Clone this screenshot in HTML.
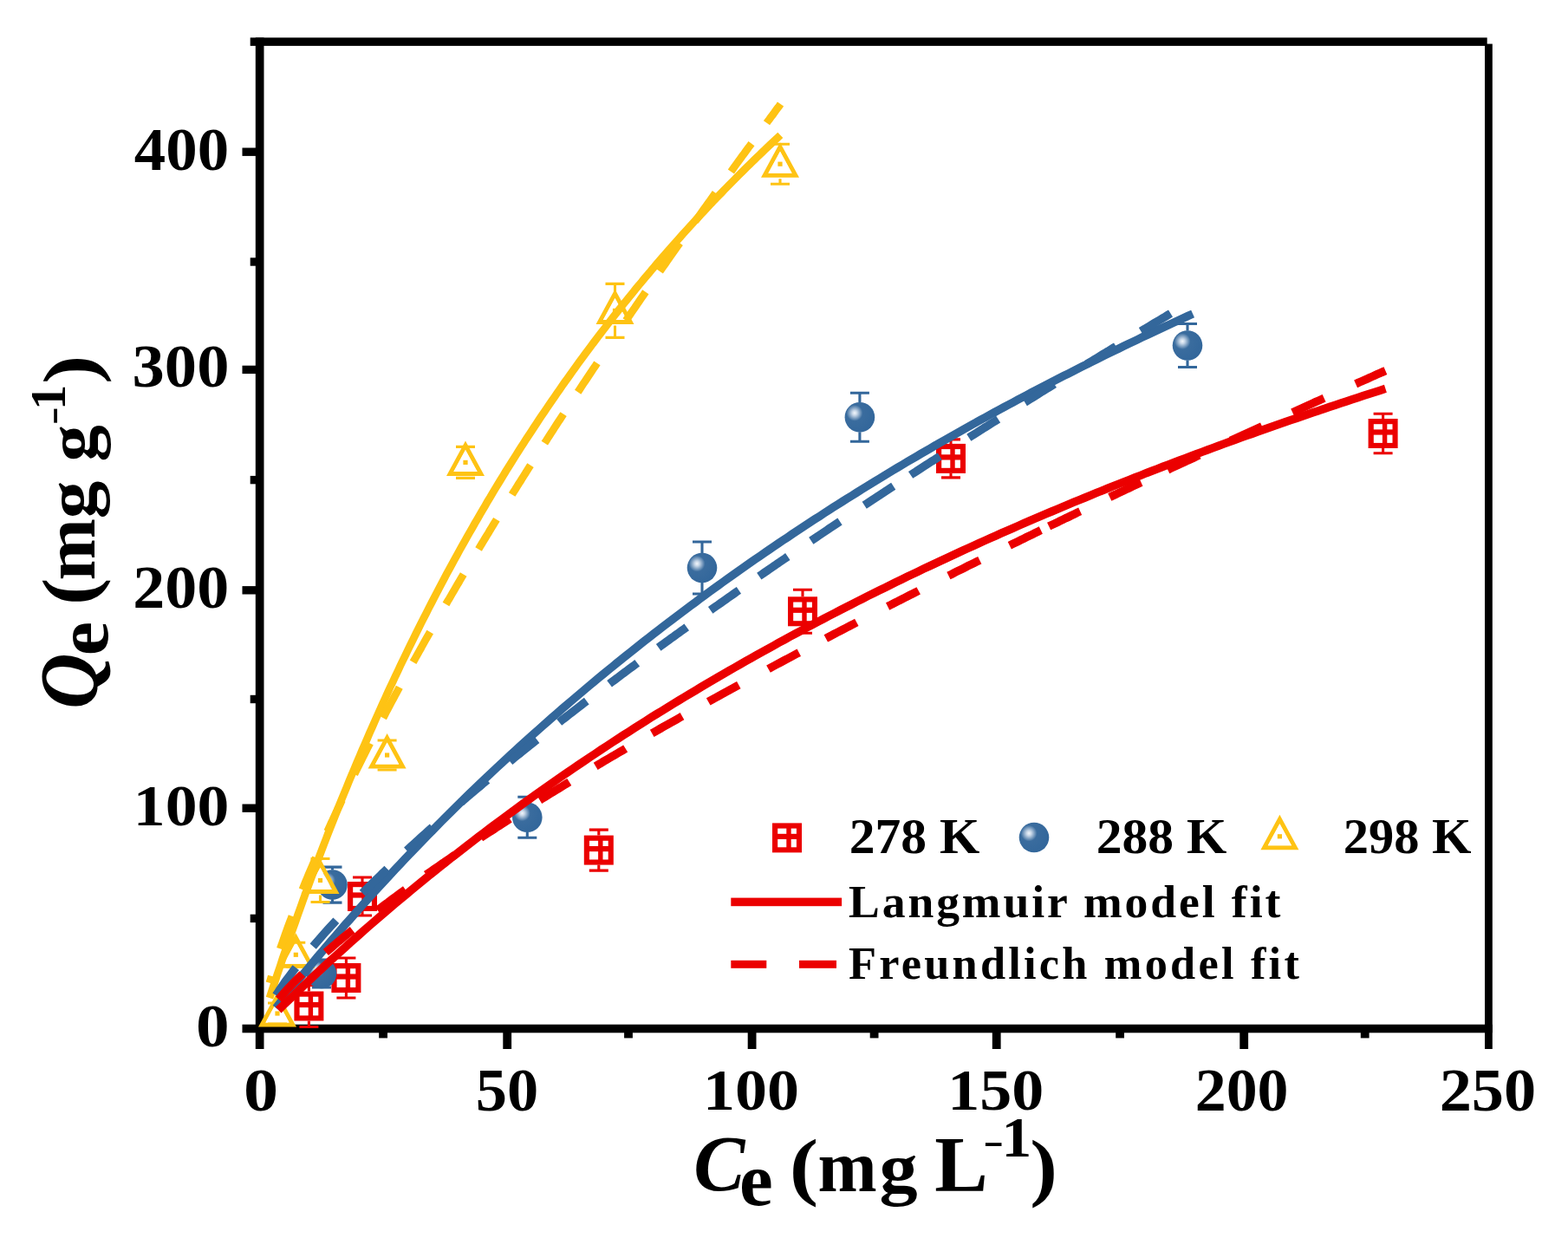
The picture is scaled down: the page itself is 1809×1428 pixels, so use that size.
<!DOCTYPE html>
<html><head><meta charset="utf-8"><style>
html,body{margin:0;padding:0;background:#fff;overflow:hidden}
svg{display:block}
text{font-family:"Liberation Serif","Times New Roman",serif}
</style></head><body>
<svg width="1809" height="1428" viewBox="0 0 1809 1428" font-weight="bold">
<defs>
<radialGradient id="sg" cx="0.33" cy="0.36" r="0.67" fx="0.33" fy="0.36">
<stop offset="0" stop-color="#F2F6FB"/><stop offset="0.12" stop-color="#C8D7E8"/><stop offset="0.4" stop-color="#3A6C9E"/><stop offset="1" stop-color="#33679B"/>
</radialGradient>
</defs>
<rect width="1809" height="1428" fill="#fff"/>

<g fill="#000">
<rect x="294.8" y="43.4" width="9.7" height="1166.6"/>
<rect x="288.7" y="43.4" width="1427" height="9.5"/>
<rect x="1713" y="50.6" width="8.8" height="1159.4"/>
<rect x="279.5" y="1181.7" width="1442.3" height="9.6"/>
<rect x="580.3" y="1186" width="9.8" height="24"/>
<rect x="862.7" y="1186" width="9.8" height="24"/>
<rect x="1144.8" y="1186" width="9.8" height="24"/>
<rect x="1430.3" y="1186" width="9.8" height="24"/>
<rect x="437.2" y="1186" width="9.8" height="11.4"/>
<rect x="720.1" y="1186" width="9.8" height="11.4"/>
<rect x="1003.7" y="1186" width="9.8" height="11.4"/>
<rect x="1287.2" y="1186" width="9.8" height="11.4"/>
<rect x="1569.8" y="1186" width="9.8" height="11.4"/>
<rect x="279.5" y="927.5" width="20" height="9.4"/>
<rect x="279.5" y="676.1" width="20" height="9.4"/>
<rect x="279.5" y="421.7" width="20" height="9.4"/>
<rect x="279.5" y="170.5" width="20" height="9.4"/>
<rect x="288.7" y="1054.7" width="10" height="9.4"/>
<rect x="288.7" y="801.8" width="10" height="9.4"/>
<rect x="288.7" y="548.9" width="10" height="9.4"/>
<rect x="288.7" y="297.3" width="10" height="9.4"/>
</g>
<g transform="translate(339.4,1143.5)"><rect x="0" y="0" width="34" height="34" fill="#EB0000"/><rect x="6.2" y="6.2" width="10.1" height="6.2" fill="#fff"/><rect x="21.7" y="6.2" width="6.2" height="6.2" fill="#fff"/><rect x="6.2" y="18.6" width="10.1" height="9.3" fill="#fff"/><rect x="21.7" y="18.6" width="6.2" height="9.3" fill="#fff"/></g>
<path d="M345.4,1136.5 h22 M345.4,1184.5 h22 M356.4,1136.5 V1143.5 M356.4,1177.5 V1184.5" stroke="#EB0000" stroke-width="3.1" fill="none"/>
<g transform="translate(382.4,1111.0)"><rect x="0" y="0" width="34" height="34" fill="#EB0000"/><rect x="6.2" y="6.2" width="10.1" height="6.2" fill="#fff"/><rect x="21.7" y="6.2" width="6.2" height="6.2" fill="#fff"/><rect x="6.2" y="18.6" width="10.1" height="9.3" fill="#fff"/><rect x="21.7" y="18.6" width="6.2" height="9.3" fill="#fff"/></g>
<path d="M388.4,1105.0 h22 M388.4,1151.0 h22 M399.4,1105.0 V1111.0 M399.4,1145.0 V1151.0" stroke="#EB0000" stroke-width="3.1" fill="none"/>
<g transform="translate(401.0,1017.0)"><rect x="0" y="0" width="34" height="34" fill="#EB0000"/><rect x="6.2" y="6.2" width="10.1" height="6.2" fill="#fff"/><rect x="21.7" y="6.2" width="6.2" height="6.2" fill="#fff"/><rect x="6.2" y="18.6" width="10.1" height="9.3" fill="#fff"/><rect x="21.7" y="18.6" width="6.2" height="9.3" fill="#fff"/></g>
<path d="M407.0,1012.0 h22 M407.0,1056.0 h22 M418.0,1012.0 V1017.0 M418.0,1051.0 V1056.0" stroke="#EB0000" stroke-width="3.1" fill="none"/>
<g transform="translate(673.8,963.6)"><rect x="0" y="0" width="34" height="34" fill="#EB0000"/><rect x="6.2" y="6.2" width="10.1" height="6.2" fill="#fff"/><rect x="21.7" y="6.2" width="6.2" height="6.2" fill="#fff"/><rect x="6.2" y="18.6" width="10.1" height="9.3" fill="#fff"/><rect x="21.7" y="18.6" width="6.2" height="9.3" fill="#fff"/></g>
<path d="M679.8,957.1 h22 M679.8,1004.1 h22 M690.8,957.1 V963.6 M690.8,997.6 V1004.1" stroke="#EB0000" stroke-width="3.1" fill="none"/>
<g transform="translate(909.0,688.3)"><rect x="0" y="0" width="34" height="34" fill="#EB0000"/><rect x="6.2" y="6.2" width="10.1" height="6.2" fill="#fff"/><rect x="21.7" y="6.2" width="6.2" height="6.2" fill="#fff"/><rect x="6.2" y="18.6" width="10.1" height="9.3" fill="#fff"/><rect x="21.7" y="18.6" width="6.2" height="9.3" fill="#fff"/></g>
<path d="M915.0,680.3 h22 M915.0,730.3 h22 M926.0,680.3 V688.3 M926.0,722.3 V730.3" stroke="#EB0000" stroke-width="3.1" fill="none"/>
<g transform="translate(1080.0,511.9)"><rect x="0" y="0" width="34" height="34" fill="#EB0000"/><rect x="6.2" y="6.2" width="10.1" height="6.2" fill="#fff"/><rect x="21.7" y="6.2" width="6.2" height="6.2" fill="#fff"/><rect x="6.2" y="18.6" width="10.1" height="9.3" fill="#fff"/><rect x="21.7" y="18.6" width="6.2" height="9.3" fill="#fff"/></g>
<path d="M1086.0,506.9 h22 M1086.0,550.9 h22 M1097.0,506.9 V511.9 M1097.0,545.9 V550.9" stroke="#EB0000" stroke-width="3.1" fill="none"/>
<g transform="translate(1578.6,483.0)"><rect x="0" y="0" width="34" height="34" fill="#EB0000"/><rect x="6.2" y="6.2" width="10.1" height="6.2" fill="#fff"/><rect x="21.7" y="6.2" width="6.2" height="6.2" fill="#fff"/><rect x="6.2" y="18.6" width="10.1" height="9.3" fill="#fff"/><rect x="21.7" y="18.6" width="6.2" height="9.3" fill="#fff"/></g>
<path d="M1584.6,477.2 h22 M1584.6,522.8 h22 M1595.6,477.2 V483.0 M1595.6,517.0 V522.8" stroke="#EB0000" stroke-width="3.1" fill="none"/>
<circle cx="371.0" cy="1123.0" r="17.3" fill="url(#sg)"/>
<path d="M360.0,1107.0 h22 M360.0,1139.0 h22" stroke="#33679B" stroke-width="3.1" fill="none"/>
<circle cx="383.5" cy="1020.6" r="17.3" fill="url(#sg)"/>
<path d="M372.5,1000.1 h22 M372.5,1041.1 h22 M383.5,1000.1 V1003.6 M383.5,1037.6 V1041.1" stroke="#33679B" stroke-width="3.1" fill="none"/>
<circle cx="608.3" cy="942.8" r="17.3" fill="url(#sg)"/>
<path d="M597.3,919.3 h22 M597.3,966.3 h22 M608.3,919.3 V925.8 M608.3,959.8 V966.3" stroke="#33679B" stroke-width="3.1" fill="none"/>
<circle cx="810.0" cy="655.0" r="17.3" fill="url(#sg)"/>
<path d="M799.0,625.0 h22 M799.0,685.0 h22 M810.0,625.0 V638.0 M810.0,672.0 V685.0" stroke="#33679B" stroke-width="3.1" fill="none"/>
<circle cx="991.9" cy="481.2" r="17.3" fill="url(#sg)"/>
<path d="M980.9,453.2 h22 M980.9,509.2 h22 M991.9,453.2 V464.2 M991.9,498.2 V509.2" stroke="#33679B" stroke-width="3.1" fill="none"/>
<circle cx="1370.0" cy="398.5" r="17.3" fill="url(#sg)"/>
<path d="M1359.0,373.5 h22 M1359.0,423.5 h22 M1370.0,373.5 V381.5 M1370.0,415.5 V423.5" stroke="#33679B" stroke-width="3.1" fill="none"/>
<path d="M320.0,1144.0 L342.0,1184.5 L298.0,1184.5 Z M320.0,1154.5 L306.4,1179.5 L333.6,1179.5 Z" fill="#FEC314" fill-rule="evenodd"/><path d="M320.0,1154.5 L306.4,1179.5 L333.6,1179.5 Z" fill="#fff"/><rect x="317.4" y="1166.4" width="5.2" height="5.2" fill="#FEC314"/>
<path d="M309.0,1157.0 h22 M309.0,1181.0 h22" stroke="#FEC314" stroke-width="3.1" fill="none"/>
<path d="M341.3,1076.3 L363.3,1116.8 L319.3,1116.8 Z M341.3,1086.8 L327.7,1111.8 L354.9,1111.8 Z" fill="#FEC314" fill-rule="evenodd"/><path d="M341.3,1086.8 L327.7,1111.8 L354.9,1111.8 Z" fill="#fff"/><rect x="338.7" y="1098.7" width="5.2" height="5.2" fill="#FEC314"/>
<path d="M330.3,1087.3 h22 M330.3,1115.3 h22" stroke="#FEC314" stroke-width="3.1" fill="none"/>
<path d="M369.5,990.5 L391.5,1031.0 L347.5,1031.0 Z M369.5,1001.0 L355.9,1026.0 L383.1,1026.0 Z" fill="#FEC314" fill-rule="evenodd"/><path d="M369.5,1001.0 L355.9,1026.0 L383.1,1026.0 Z" fill="#fff"/><rect x="366.9" y="1012.9" width="5.2" height="5.2" fill="#FEC314"/>
<path d="M358.5,990.5 h22 M358.5,1040.5 h22 M369.5,990.5 V998.5 M369.5,1032.5 V1040.5" stroke="#FEC314" stroke-width="3.1" fill="none"/>
<path d="M446.6,846.0 L468.6,886.5 L424.6,886.5 Z M446.6,856.5 L433.0,881.5 L460.2,881.5 Z" fill="#FEC314" fill-rule="evenodd"/><path d="M446.6,856.5 L433.0,881.5 L460.2,881.5 Z" fill="#fff"/><rect x="444.0" y="868.4" width="5.2" height="5.2" fill="#FEC314"/>
<path d="M435.6,854.0 h22 M435.6,888.0 h22" stroke="#FEC314" stroke-width="3.1" fill="none"/>
<path d="M537.0,508.4 L559.0,548.9 L515.0,548.9 Z M537.0,518.9 L523.4,543.9 L550.6,543.9 Z" fill="#FEC314" fill-rule="evenodd"/><path d="M537.0,518.9 L523.4,543.9 L550.6,543.9 Z" fill="#fff"/><rect x="534.4" y="530.8" width="5.2" height="5.2" fill="#FEC314"/>
<path d="M526.0,515.4 h22 M526.0,551.4 h22 M537.0,515.4 V516.4 M537.0,550.4 V551.4" stroke="#FEC314" stroke-width="3.1" fill="none"/>
<path d="M709.5,333.4 L731.5,373.9 L687.5,373.9 Z M709.5,343.9 L695.9,368.9 L723.1,368.9 Z" fill="#FEC314" fill-rule="evenodd"/><path d="M709.5,343.9 L695.9,368.9 L723.1,368.9 Z" fill="#fff"/><rect x="706.9" y="355.8" width="5.2" height="5.2" fill="#FEC314"/>
<path d="M698.5,327.4 h22 M698.5,389.4 h22 M709.5,327.4 V341.4 M709.5,375.4 V389.4" stroke="#FEC314" stroke-width="3.1" fill="none"/>
<path d="M900.0,164.2 L922.0,204.7 L878.0,204.7 Z M900.0,174.7 L886.4,199.7 L913.6,199.7 Z" fill="#FEC314" fill-rule="evenodd"/><path d="M900.0,174.7 L886.4,199.7 L913.6,199.7 Z" fill="#fff"/><rect x="897.4" y="186.6" width="5.2" height="5.2" fill="#FEC314"/>
<path d="M889.0,166.2 h22 M889.0,212.2 h22 M900.0,166.2 V172.2 M900.0,206.2 V212.2" stroke="#FEC314" stroke-width="3.1" fill="none"/>
<path d="M311.0,1151.1 L314.0,1142.0 L317.0,1133.0 L319.9,1124.1 L322.9,1115.3 L325.8,1106.5 L328.8,1097.8 L331.8,1089.2 L334.7,1080.6 L337.7,1072.1 L340.7,1063.7 L343.6,1055.3 L346.6,1047.0 L349.5,1038.8 L352.5,1030.6 L355.5,1022.5 L358.4,1014.5 L361.4,1006.5 L364.3,998.6 L367.3,990.7 L370.3,982.9 L373.2,975.2 L376.2,967.5 L379.1,959.9 L382.1,952.3 L385.1,944.8 L388.0,937.4 L391.0,930.0 L393.9,922.6 L396.9,915.3 L399.9,908.1 L402.8,900.9 L405.8,893.8 L408.8,886.7 L411.7,879.7 L414.7,872.7 L417.6,865.8 L420.6,858.9 L423.6,852.1 L426.5,845.3 L429.5,838.6 L432.4,831.9 L435.4,825.2 L438.4,818.6 L441.3,812.1 L444.3,805.6 L447.2,799.1 L450.2,792.7 L453.2,786.4 L456.1,780.0 L459.1,773.8 L462.0,767.5 L465.0,761.3 L468.0,755.2 L470.9,749.1 L473.9,743.0 L476.9,737.0 L479.8,731.0 L482.8,725.0 L485.7,719.1 L488.7,713.3 L491.7,707.4 L494.6,701.6 L497.6,695.9 L500.5,690.2 L503.5,684.5 L506.5,678.8 L509.4,673.2 L512.4,667.7 L515.3,662.1 L518.3,656.6 L521.3,651.2 L524.2,645.7 L527.2,640.3 L530.1,635.0 L533.1,629.6 L536.1,624.3 L539.0,619.1 L542.0,613.9 L545.0,608.7 L547.9,603.5 L550.9,598.4 L553.8,593.3 L556.8,588.2 L559.8,583.2 L562.7,578.1 L565.7,573.2 L568.6,568.2 L571.6,563.3 L574.6,558.4 L577.5,553.6 L580.5,548.7 L583.4,543.9 L586.4,539.2 L589.4,534.4 L592.3,529.7 L595.3,525.0 L598.2,520.4 L601.2,515.7 L604.2,511.1 L607.1,506.5 L610.1,502.0 L613.1,497.5 L616.0,493.0 L619.0,488.5 L621.9,484.0 L624.9,479.6 L627.9,475.2 L630.8,470.9 L633.8,466.5 L636.7,462.2 L639.7,457.9 L642.7,453.6 L645.6,449.4 L648.6,445.1 L651.5,440.9 L654.5,436.8 L657.5,432.6 L660.4,428.5 L663.4,424.4 L666.3,420.3 L669.3,416.2 L672.3,412.2 L675.2,408.2 L678.2,404.2 L681.2,400.2 L684.1,396.2 L687.1,392.3 L690.0,388.4 L693.0,384.5 L696.0,380.6 L698.9,376.8 L701.9,372.9 L704.8,369.1 L707.8,365.3 L710.8,361.6 L713.7,357.8 L716.7,354.1 L719.6,350.4 L722.6,346.7 L725.6,343.0 L728.5,339.4 L731.5,335.8 L734.4,332.1 L737.4,328.5 L740.4,325.0 L743.3,321.4 L746.3,317.9 L749.3,314.4 L752.2,310.8 L755.2,307.4 L758.1,303.9 L761.1,300.4 L764.1,297.0 L767.0,293.6 L770.0,290.2 L772.9,286.8 L775.9,283.5 L778.9,280.1 L781.8,276.8 L784.8,273.5 L787.7,270.2 L790.7,266.9 L793.7,263.6 L796.6,260.4 L799.6,257.1 L802.5,253.9 L805.5,250.7 L808.5,247.5 L811.4,244.4 L814.4,241.2 L817.4,238.1 L820.3,234.9 L823.3,231.8 L826.2,228.7 L829.2,225.7 L832.2,222.6 L835.1,219.5 L838.1,216.5 L841.0,213.5 L844.0,210.5 L847.0,207.5 L849.9,204.5 L852.9,201.5 L855.8,198.6 L858.8,195.6 L861.8,192.7 L864.7,189.8 L867.7,186.9 L870.7,184.0 L873.6,181.2 L876.6,178.3 L879.5,175.5 L882.5,172.6 L885.5,169.8 L888.4,167.0 L891.4,164.2 L894.3,161.4 L897.3,158.7 L900.3,155.9" fill="none" stroke="#FEC314" stroke-width="8.8"/>
<path d="M311.0,1133.7 L311.2,1133.0 L311.4,1132.2 L311.7,1131.5 L311.9,1130.8 L312.1,1130.1 L312.3,1129.4 L312.5,1128.7 L312.7,1128.0 L312.9,1127.3 L313.1,1126.6 L313.3,1125.9 M323.3,1094.4 L324.5,1091.0 L325.7,1087.6 L326.9,1084.1 L328.1,1080.7 L329.3,1077.3 L330.5,1073.9 L331.8,1070.4 L333.0,1067.0 L334.3,1063.6 L335.6,1060.2 L336.9,1056.8 M348.9,1026.1 L350.3,1022.7 L351.6,1019.4 L353.0,1016.0 L354.4,1012.7 L355.8,1009.3 L357.2,1005.9 L358.6,1002.6 L360.1,999.2 L361.5,995.9 L362.9,992.6 L364.4,989.2 M377.7,959.1 L379.2,955.8 L380.7,952.5 L382.2,949.2 L383.8,945.9 L385.3,942.6 L386.8,939.3 L388.4,936.0 L389.9,932.7 L391.5,929.4 L393.0,926.1 L394.6,922.8 M408.9,893.1 L410.5,889.9 L412.1,886.6 L413.8,883.3 L415.4,880.1 L417.0,876.8 L418.6,873.6 L420.3,870.3 L421.9,867.1 L423.5,863.8 L425.2,860.6 L426.8,857.4 M442.0,828.1 L443.7,824.9 L445.4,821.6 L447.1,818.4 L448.8,815.2 L450.5,812.0 L452.2,808.8 L453.9,805.6 L455.6,802.4 L457.4,799.2 L459.1,796.0 L460.8,792.8 M476.6,763.8 L478.4,760.7 L480.1,757.5 L481.9,754.3 L483.7,751.1 L485.5,748.0 L487.2,744.8 L489.0,741.6 L490.8,738.4 L492.6,735.3 L494.4,732.1 L496.2,729.0 M514.5,697.0 L516.3,693.8 L518.2,690.7 L520.0,687.6 L521.8,684.4 L523.7,681.3 L525.5,678.1 L527.3,675.0 L529.2,671.9 L531.0,668.7 L532.9,665.6 L534.7,662.5 M552.1,633.4 L554.0,630.2 L555.9,627.1 L557.8,624.0 L559.7,620.9 L561.6,617.8 L563.5,614.7 L565.3,611.6 L567.2,608.5 L569.1,605.4 L571.0,602.3 L572.9,599.2 M590.7,570.5 L592.6,567.4 L594.6,564.4 L596.5,561.3 L598.4,558.2 L600.4,555.1 L602.3,552.0 L604.2,549.0 L606.2,545.9 L608.1,542.8 L610.1,539.7 L612.0,536.7 M628.3,511.2 L630.3,508.1 L632.2,505.0 L634.2,502.0 L636.2,498.9 L638.2,495.9 L640.1,492.8 L642.1,489.8 L644.1,486.7 L646.1,483.7 L648.1,480.6 L650.1,477.6 M666.7,452.2 L668.7,449.2 L670.7,446.1 L672.7,443.1 L674.8,440.1 L676.8,437.0 L678.8,434.0 L680.8,431.0 L682.8,428.0 L684.8,424.9 L686.9,421.9 L688.9,418.9 M722.2,369.7 L724.2,366.7 L726.3,363.7 L728.3,360.7 L730.4,357.7 L732.5,354.7 L734.5,351.7 L736.6,348.7 L738.6,345.7 L740.7,342.7 L742.8,339.7 L744.8,336.7 M761.3,313.0 L763.4,310.0 L765.5,307.0 L767.6,304.1 L769.7,301.1 L771.8,298.1 L773.8,295.1 L775.9,292.2 L778.0,289.2 L780.1,286.2 L782.2,283.2 L784.3,280.3 M802.1,255.1 L804.3,252.2 L806.4,249.2 L808.5,246.3 L810.6,243.3 L812.7,240.4 L814.8,237.4 L817.0,234.4 L819.1,231.5 L821.2,228.5 L823.3,225.6 L825.4,222.6 M843.4,197.9 L845.5,194.9 L847.6,192.0 L849.8,189.0 L851.9,186.1 L854.1,183.2 L856.2,180.2 L858.4,177.3 L860.5,174.4 L862.7,171.4 L864.8,168.5 L867.0,165.6 M884.5,141.8 L885.9,139.8 L887.4,137.9 L888.8,135.9 L890.3,133.9 L891.8,132.0 L893.2,130.0 L894.7,128.0 L896.1,126.0 L897.6,124.1 L899.1,122.1 L900.5,120.1" fill="none" stroke="#FEC314" stroke-width="8.8"/>
<path d="M318.4,1162.6 L323.7,1155.9 L329.0,1149.2 L334.4,1142.6 L339.7,1136.1 L345.0,1129.6 L350.3,1123.1 L355.6,1116.7 L360.9,1110.3 L366.2,1103.9 L371.6,1097.6 L376.9,1091.4 L382.2,1085.2 L387.5,1079.0 L392.8,1072.8 L398.1,1066.7 L403.5,1060.7 L408.8,1054.6 L414.1,1048.6 L419.4,1042.7 L424.7,1036.8 L430.0,1030.9 L435.3,1025.1 L440.7,1019.3 L446.0,1013.5 L451.3,1007.8 L456.6,1002.1 L461.9,996.4 L467.2,990.8 L472.5,985.2 L477.9,979.6 L483.2,974.1 L488.5,968.6 L493.8,963.2 L499.1,957.8 L504.4,952.4 L509.7,947.0 L515.1,941.7 L520.4,936.4 L525.7,931.1 L531.0,925.9 L536.3,920.7 L541.6,915.5 L546.9,910.4 L552.3,905.3 L557.6,900.2 L562.9,895.1 L568.2,890.1 L573.5,885.1 L578.8,880.2 L584.2,875.2 L589.5,870.3 L594.8,865.4 L600.1,860.6 L605.4,855.8 L610.7,851.0 L616.0,846.2 L621.4,841.5 L626.7,836.8 L632.0,832.1 L637.3,827.4 L642.6,822.8 L647.9,818.2 L653.2,813.6 L658.6,809.0 L663.9,804.5 L669.2,800.0 L674.5,795.5 L679.8,791.0 L685.1,786.6 L690.4,782.2 L695.8,777.8 L701.1,773.4 L706.4,769.1 L711.7,764.8 L717.0,760.5 L722.3,756.2 L727.7,752.0 L733.0,747.7 L738.3,743.5 L743.6,739.3 L748.9,735.2 L754.2,731.0 L759.5,726.9 L764.9,722.8 L770.2,718.8 L775.5,714.7 L780.8,710.7 L786.1,706.7 L791.4,702.7 L796.7,698.7 L802.1,694.8 L807.4,690.8 L812.7,686.9 L818.0,683.0 L823.3,679.2 L828.6,675.3 L833.9,671.5 L839.3,667.7 L844.6,663.9 L849.9,660.1 L855.2,656.4 L860.5,652.7 L865.8,648.9 L871.2,645.2 L876.5,641.6 L881.8,637.9 L887.1,634.3 L892.4,630.6 L897.7,627.0 L903.0,623.4 L908.4,619.9 L913.7,616.3 L919.0,612.8 L924.3,609.3 L929.6,605.8 L934.9,602.3 L940.2,598.8 L945.6,595.4 L950.9,591.9 L956.2,588.5 L961.5,585.1 L966.8,581.7 L972.1,578.4 L977.4,575.0 L982.8,571.7 L988.1,568.4 L993.4,565.0 L998.7,561.8 L1004.0,558.5 L1009.3,555.2 L1014.7,552.0 L1020.0,548.7 L1025.3,545.5 L1030.6,542.3 L1035.9,539.1 L1041.2,536.0 L1046.5,532.8 L1051.9,529.7 L1057.2,526.6 L1062.5,523.4 L1067.8,520.3 L1073.1,517.3 L1078.4,514.2 L1083.7,511.1 L1089.1,508.1 L1094.4,505.1 L1099.7,502.1 L1105.0,499.1 L1110.3,496.1 L1115.6,493.1 L1120.9,490.1 L1126.3,487.2 L1131.6,484.2 L1136.9,481.3 L1142.2,478.4 L1147.5,475.5 L1152.8,472.6 L1158.1,469.8 L1163.5,466.9 L1168.8,464.1 L1174.1,461.2 L1179.4,458.4 L1184.7,455.6 L1190.0,452.8 L1195.4,450.0 L1200.7,447.2 L1206.0,444.5 L1211.3,441.7 L1216.6,439.0 L1221.9,436.3 L1227.2,433.6 L1232.6,430.9 L1237.9,428.2 L1243.2,425.5 L1248.5,422.8 L1253.8,420.2 L1259.1,417.5 L1264.4,414.9 L1269.8,412.3 L1275.1,409.6 L1280.4,407.0 L1285.7,404.5 L1291.0,401.9 L1296.3,399.3 L1301.6,396.7 L1307.0,394.2 L1312.3,391.7 L1317.6,389.1 L1322.9,386.6 L1328.2,384.1 L1333.5,381.6 L1338.9,379.1 L1344.2,376.7 L1349.5,374.2 L1354.8,371.7 L1360.1,369.3 L1365.4,366.9 L1370.7,364.4 L1376.1,362.0" fill="none" stroke="#33679B" stroke-width="9.5"/>
<path d="M318.4,1148.2 L320.4,1145.2 L322.3,1142.2 L324.3,1139.2 L326.4,1136.3 L328.4,1133.3 L330.5,1130.4 L332.6,1127.5 L334.8,1124.7 L336.9,1121.8 L339.1,1118.9 L341.3,1116.1 M361.2,1091.6 L363.5,1088.9 L365.9,1086.1 L368.3,1083.4 L370.7,1080.6 L373.1,1077.9 L375.5,1075.2 L377.9,1072.5 L380.4,1069.8 L382.8,1067.1 L385.3,1064.4 L387.8,1061.8 M418.1,1030.2 L420.7,1027.6 L423.2,1025.0 L425.8,1022.5 L428.4,1019.9 L431.0,1017.4 L433.6,1014.8 L436.2,1012.3 L438.8,1009.8 L441.4,1007.2 L444.1,1004.7 L446.7,1002.2 M469.2,981.0 L471.9,978.6 L474.6,976.1 L477.2,973.7 L479.9,971.2 L482.6,968.8 L485.3,966.3 L488.0,963.9 L490.7,961.5 L493.4,959.0 L496.1,956.6 L498.9,954.2 M531.7,925.6 L534.4,923.2 L537.2,920.8 L540.0,918.5 L542.7,916.1 L545.5,913.8 L548.3,911.4 L551.1,909.1 L553.9,906.8 L556.6,904.4 L559.4,902.1 L562.2,899.8 M588.3,878.3 L591.1,876.0 L593.9,873.7 L596.8,871.4 L599.6,869.2 L602.4,866.9 L605.3,864.6 L608.1,862.3 L610.9,860.1 L613.8,857.8 L616.6,855.5 L619.5,853.3 M645.2,833.1 L648.0,830.8 L650.9,828.6 L653.8,826.4 L656.7,824.1 L659.5,821.9 L662.4,819.7 L665.3,817.5 L668.2,815.3 L671.1,813.0 L673.9,810.8 L676.8,808.6 M703.1,788.7 L706.0,786.5 L709.0,784.3 L711.9,782.2 L714.8,780.0 L717.7,777.8 L720.6,775.6 L723.5,773.5 L726.4,771.3 L729.4,769.1 L732.3,767.0 L735.2,764.8 M759.7,746.9 L762.7,744.7 L765.6,742.6 L768.6,740.4 L771.5,738.3 L774.4,736.2 L777.4,734.1 L780.3,731.9 L783.3,729.8 L786.2,727.7 L789.2,725.6 L792.2,723.4 M819.7,703.8 L822.7,701.7 L825.6,699.6 L828.6,697.6 L831.6,695.5 L834.6,693.4 L837.5,691.3 L840.5,689.2 L843.5,687.1 L846.5,685.0 L849.4,682.9 L852.4,680.9 M875.8,664.6 L878.8,662.6 L881.8,660.5 L884.8,658.5 L887.8,656.4 L890.8,654.3 L893.8,652.3 L896.8,650.2 L899.8,648.2 L902.8,646.1 L905.8,644.1 L908.8,642.0 M935.8,623.7 L938.8,621.7 L941.8,619.7 L944.9,617.6 L947.9,615.6 L950.9,613.6 L953.9,611.6 L956.9,609.5 L960.0,607.5 L963.0,605.5 L966.0,603.5 L969.0,601.5 M997.2,582.8 L1000.3,580.8 L1003.3,578.8 L1006.3,576.8 L1009.4,574.8 L1012.4,572.8 L1015.5,570.8 L1018.5,568.8 L1021.5,566.8 L1024.6,564.8 L1027.6,562.8 L1030.7,560.8 M1050.6,547.9 L1053.6,545.9 L1056.7,544.0 L1059.7,542.0 L1062.8,540.0 L1065.8,538.1 L1068.9,536.1 L1071.9,534.1 L1075.0,532.1 L1078.1,530.2 L1081.1,528.2 L1084.2,526.3 M1117.8,504.8 L1120.9,502.8 L1123.9,500.9 L1127.0,499.0 L1130.1,497.0 L1133.2,495.1 L1136.2,493.1 L1139.3,491.2 L1142.4,489.2 L1145.5,487.3 L1148.5,485.4 L1151.6,483.4 M1182.4,464.1 L1185.5,462.2 L1188.6,460.3 L1191.7,458.4 L1194.8,456.5 L1197.9,454.5 L1200.9,452.6 L1204.0,450.7 L1207.1,448.8 L1210.2,446.9 L1213.3,445.0 L1216.4,443.0 M1253.4,420.3 L1256.5,418.4 L1259.6,416.5 L1262.7,414.6 L1265.8,412.7 L1268.9,410.8 L1272.0,408.9 L1275.1,407.0 L1278.2,405.2 L1281.3,403.3 L1284.4,401.4 L1287.5,399.5 M1316.3,382.1 L1319.4,380.2 L1322.5,378.4 L1325.6,376.5 L1328.7,374.6 L1331.8,372.7 L1334.9,370.9 L1338.1,369.0 L1341.2,367.1 L1344.3,365.3 L1347.4,363.4 L1350.5,361.5" fill="none" stroke="#33679B" stroke-width="9.5"/>
<path d="M321.2,1165.0 L327.7,1158.7 L334.1,1152.5 L340.5,1146.3 L346.9,1140.2 L353.3,1134.1 L359.8,1128.0 L366.2,1122.0 L372.6,1116.0 L379.0,1110.1 L385.4,1104.2 L391.8,1098.4 L398.3,1092.6 L404.7,1086.8 L411.1,1081.1 L417.5,1075.4 L423.9,1069.8 L430.3,1064.2 L436.8,1058.7 L443.2,1053.2 L449.6,1047.7 L456.0,1042.2 L462.4,1036.8 L468.9,1031.5 L475.3,1026.2 L481.7,1020.9 L488.1,1015.6 L494.5,1010.4 L500.9,1005.2 L507.4,1000.1 L513.8,995.0 L520.2,989.9 L526.6,984.9 L533.0,979.9 L539.4,974.9 L545.9,970.0 L552.3,965.0 L558.7,960.2 L565.1,955.3 L571.5,950.5 L578.0,945.7 L584.4,941.0 L590.8,936.3 L597.2,931.6 L603.6,926.9 L610.0,922.3 L616.5,917.7 L622.9,913.2 L629.3,908.6 L635.7,904.1 L642.1,899.6 L648.5,895.2 L655.0,890.8 L661.4,886.4 L667.8,882.0 L674.2,877.7 L680.6,873.4 L687.1,869.1 L693.5,864.8 L699.9,860.6 L706.3,856.4 L712.7,852.2 L719.1,848.0 L725.6,843.9 L732.0,839.8 L738.4,835.7 L744.8,831.7 L751.2,827.6 L757.6,823.6 L764.1,819.7 L770.5,815.7 L776.9,811.8 L783.3,807.9 L789.7,804.0 L796.2,800.1 L802.6,796.3 L809.0,792.4 L815.4,788.6 L821.8,784.9 L828.2,781.1 L834.7,777.4 L841.1,773.7 L847.5,770.0 L853.9,766.3 L860.3,762.7 L866.7,759.1 L873.2,755.4 L879.6,751.9 L886.0,748.3 L892.4,744.8 L898.8,741.2 L905.3,737.7 L911.7,734.2 L918.1,730.8 L924.5,727.3 L930.9,723.9 L937.3,720.5 L943.8,717.1 L950.2,713.7 L956.6,710.4 L963.0,707.1 L969.4,703.7 L975.8,700.5 L982.3,697.2 L988.7,693.9 L995.1,690.7 L1001.5,687.4 L1007.9,684.2 L1014.4,681.0 L1020.8,677.9 L1027.2,674.7 L1033.6,671.6 L1040.0,668.5 L1046.4,665.3 L1052.9,662.3 L1059.3,659.2 L1065.7,656.1 L1072.1,653.1 L1078.5,650.1 L1084.9,647.1 L1091.4,644.1 L1097.8,641.1 L1104.2,638.1 L1110.6,635.2 L1117.0,632.2 L1123.5,629.3 L1129.9,626.4 L1136.3,623.5 L1142.7,620.7 L1149.1,617.8 L1155.5,614.9 L1162.0,612.1 L1168.4,609.3 L1174.8,606.5 L1181.2,603.7 L1187.6,600.9 L1194.0,598.2 L1200.5,595.4 L1206.9,592.7 L1213.3,590.0 L1219.7,587.3 L1226.1,584.6 L1232.6,581.9 L1239.0,579.2 L1245.4,576.6 L1251.8,574.0 L1258.2,571.3 L1264.6,568.7 L1271.1,566.1 L1277.5,563.5 L1283.9,560.9 L1290.3,558.4 L1296.7,555.8 L1303.1,553.3 L1309.6,550.8 L1316.0,548.3 L1322.4,545.7 L1328.8,543.3 L1335.2,540.8 L1341.7,538.3 L1348.1,535.9 L1354.5,533.4 L1360.9,531.0 L1367.3,528.6 L1373.7,526.1 L1380.2,523.7 L1386.6,521.4 L1393.0,519.0 L1399.4,516.6 L1405.8,514.3 L1412.2,511.9 L1418.7,509.6 L1425.1,507.3 L1431.5,504.9 L1437.9,502.6 L1444.3,500.4 L1450.8,498.1 L1457.2,495.8 L1463.6,493.5 L1470.0,491.3 L1476.4,489.1 L1482.8,486.8 L1489.3,484.6 L1495.7,482.4 L1502.1,480.2 L1508.5,478.0 L1514.9,475.8 L1521.3,473.7 L1527.8,471.5 L1534.2,469.3 L1540.6,467.2 L1547.0,465.1 L1553.4,462.9 L1559.9,460.8 L1566.3,458.7 L1572.7,456.6 L1579.1,454.5 L1585.5,452.5 L1591.9,450.4 L1598.4,448.3" fill="none" stroke="#EB0000" stroke-width="9.5"/>
<path d="M321.4,1152.6 L323.8,1149.9 L326.2,1147.1 L328.6,1144.4 L331.0,1141.7 L333.5,1139.1 L336.0,1136.4 L338.5,1133.8 L341.1,1131.2 L343.6,1128.6 L346.2,1126.1 L348.8,1123.5 M375.9,1098.5 L378.7,1096.1 L381.4,1093.8 L384.2,1091.4 L386.9,1089.0 L389.7,1086.7 L392.5,1084.3 L395.3,1082.0 L398.1,1079.7 L400.9,1077.4 L403.7,1075.1 L406.6,1072.8 M435.6,1050.0 L438.5,1047.8 L441.4,1045.6 L444.3,1043.4 L447.2,1041.3 L450.1,1039.1 L453.0,1036.9 L455.9,1034.7 L458.8,1032.6 L461.8,1030.4 L464.7,1028.3 L467.7,1026.2 M491.7,1009.0 L494.7,1006.9 L497.7,1004.8 L500.7,1002.7 L503.7,1000.6 L506.7,998.6 L509.7,996.5 L512.7,994.5 L515.7,992.4 L518.7,990.3 L521.7,988.3 L524.7,986.3 M554.6,966.3 L557.7,964.3 L560.7,962.3 L563.8,960.3 L566.8,958.4 L569.9,956.4 L572.9,954.4 L576.0,952.4 L579.0,950.5 L582.1,948.5 L585.2,946.5 L588.2,944.6 M622.7,922.9 L625.8,921.0 L628.9,919.1 L632.0,917.2 L635.1,915.3 L638.2,913.4 L641.3,911.5 L644.4,909.6 L647.5,907.7 L650.6,905.8 L653.7,903.9 L656.8,902.0 M687.2,883.8 L690.4,881.9 L693.5,880.1 L696.6,878.2 L699.7,876.4 L702.9,874.5 L706.0,872.7 L709.2,870.9 L712.3,869.0 L715.4,867.2 L718.6,865.4 L721.7,863.5 M752.2,845.9 L755.4,844.1 L758.5,842.3 L761.7,840.5 L764.8,838.7 L768.0,836.9 L771.2,835.1 L774.3,833.4 L777.5,831.6 L780.7,829.8 L783.8,828.0 L787.0,826.2 M817.2,809.4 L820.4,807.6 L823.6,805.8 L826.8,804.1 L830.0,802.3 L833.1,800.6 L836.3,798.8 L839.5,797.1 L842.7,795.3 L845.9,793.6 L849.1,791.8 L852.3,790.1 M886.5,771.6 L889.7,769.8 L892.9,768.1 L896.1,766.4 L899.3,764.7 L902.5,763.0 L905.7,761.3 L908.9,759.6 L912.2,757.8 L915.4,756.1 L918.6,754.4 L921.8,752.7 M952.8,736.4 L956.0,734.7 L959.3,733.0 L962.5,731.3 L965.7,729.6 L968.9,728.0 L972.2,726.3 L975.4,724.6 L978.6,722.9 L981.8,721.3 L985.1,719.6 L988.3,717.9 M1024.1,699.5 L1027.3,697.9 L1030.5,696.2 L1033.8,694.6 L1037.0,692.9 L1040.3,691.3 L1043.5,689.6 L1046.7,688.0 L1050.0,686.3 L1053.2,684.7 L1056.5,683.1 L1059.7,681.4 M1094.4,664.0 L1097.7,662.4 L1100.9,660.7 L1104.2,659.1 L1107.5,657.5 L1110.7,655.9 L1114.0,654.2 L1117.2,652.6 L1120.5,651.0 L1123.7,649.4 L1127.0,647.8 L1130.3,646.2 M1164.8,629.2 L1168.1,627.6 L1171.4,626.0 L1174.6,624.4 L1177.9,622.8 L1181.2,621.2 L1184.4,619.6 L1187.7,618.0 L1191.0,616.4 L1194.2,614.8 L1197.5,613.2 L1200.8,611.6 M1210.1,607.1 L1213.4,605.5 L1216.7,604.0 L1220.0,602.4 L1223.2,600.8 L1226.5,599.2 L1229.8,597.6 L1233.1,596.1 L1236.3,594.5 L1239.6,592.9 L1242.9,591.3 L1246.2,589.8 M1280.3,573.5 L1283.6,571.9 L1286.9,570.4 L1290.2,568.8 L1293.5,567.2 L1296.8,565.7 L1300.0,564.1 L1303.3,562.6 L1306.6,561.0 L1309.9,559.5 L1313.2,557.9 L1316.5,556.4 M1347.3,541.9 L1350.6,540.3 L1353.9,538.8 L1357.2,537.3 L1360.5,535.7 L1363.8,534.2 L1367.1,532.7 L1370.4,531.1 L1373.7,529.6 L1377.0,528.1 L1380.3,526.5 L1383.6,525.0 M1419.7,508.3 L1423.0,506.8 L1426.3,505.3 L1429.6,503.8 L1432.9,502.3 L1436.2,500.7 L1439.5,499.2 L1442.8,497.7 L1446.1,496.2 L1449.4,494.7 L1452.7,493.2 L1456.0,491.7 M1491.2,475.7 L1494.5,474.2 L1497.8,472.7 L1501.1,471.2 L1504.4,469.7 L1507.7,468.2 L1511.0,466.7 L1514.3,465.2 L1517.7,463.7 L1521.0,462.2 L1524.3,460.7 L1527.6,459.2 M1564.1,442.8 L1567.2,441.4 L1570.3,440.0 L1573.5,438.7 L1576.6,437.3 L1579.7,435.9 L1582.8,434.5 L1585.9,433.1 L1589.0,431.7 L1592.1,430.3 L1595.2,429.0 L1598.4,427.6" fill="none" stroke="#EB0000" stroke-width="9.5"/>
<text transform="translate(225.91,1207.02) scale(0.7714,0.6910)" font-size="100">0</text>
<text transform="translate(153.80,952.03) scale(0.7370,0.6868)" font-size="100">100</text>
<text transform="translate(153.34,700.91) scale(0.7401,0.6925)" font-size="100">200</text>
<text transform="translate(152.62,446.20) scale(0.7451,0.7015)" font-size="100">300</text>
<text transform="translate(154.77,195.51) scale(0.7290,0.6940)" font-size="100">400</text>
<text transform="translate(281.09,1281.02) scale(0.8024,0.6896)" font-size="100">0</text>
<text transform="translate(548.70,1281.02) scale(0.7250,0.6896)" font-size="100">50</text>
<text transform="translate(811.08,1280.44) scale(0.7406,0.6794)" font-size="100">100</text>
<text transform="translate(1093.28,1280.44) scale(0.7406,0.6794)" font-size="100">150</text>
<text transform="translate(1378.73,1281.02) scale(0.7183,0.6896)" font-size="100">200</text>
<text transform="translate(1660.63,1281.02) scale(0.7437,0.6896)" font-size="100">250</text>
<text transform="translate(800.14,1373.30) scale(0.8877,0.9030)" font-size="100" font-style="italic">C</text>
<text transform="translate(853.08,1389.74) scale(0.8718,0.8604)" font-size="100">e</text>
<text transform="translate(910.68,1374.39) scale(1.0038,0.8578)" font-size="100">(</text>
<text transform="translate(943.45,1373.80) scale(0.8177,0.8489)" font-size="100">m</text>
<text transform="translate(1014.45,1375.46) scale(0.8826,0.8068)" font-size="100">g</text>
<text transform="translate(1078.36,1374.20) scale(0.9217,0.9046)" font-size="100">L</text>
<text transform="translate(1134.34,1331.89) scale(0.7154,0.5143)" font-size="100" font-weight="normal">-</text>
<text transform="translate(1155.54,1334.00) scale(0.6946,0.6576)" font-size="100">1</text>
<text transform="translate(1188.35,1374.93) scale(0.9500,0.8700)" font-size="100">)</text>
<g transform="rotate(-90)">
<text transform="translate(-817.86,112.11) scale(0.8892,0.9556)" font-size="100" font-style="italic">Q</text>
<text transform="translate(-756.36,124.35) scale(0.8872,0.8542)" font-size="100">e</text>
<text transform="translate(-698.07,109.10) scale(0.9423,0.8667)" font-size="100">(</text>
<text transform="translate(-669.47,108.60) scale(0.8570,0.8553)" font-size="100">m</text>
<text transform="translate(-598.32,110.36) scale(0.8717,0.8068)" font-size="100">g</text>
<text transform="translate(-532.54,110.74) scale(0.8478,0.8123)" font-size="100">g</text>
<text transform="translate(-490.08,75.69) scale(0.6192,0.5143)" font-size="100" font-weight="normal">-</text>
<text transform="translate(-472.99,75.20) scale(0.5865,0.5727)" font-size="100">1</text>
<text transform="translate(-443.12,109.65) scale(1.0077,0.8644)" font-size="100">)</text>
</g>
<g transform="translate(891.0,949.4)"><rect x="0" y="0" width="34" height="34" fill="#EB0000"/><rect x="6.2" y="6.2" width="10.1" height="6.2" fill="#fff"/><rect x="21.7" y="6.2" width="6.2" height="6.2" fill="#fff"/><rect x="6.2" y="18.6" width="10.1" height="9.3" fill="#fff"/><rect x="21.7" y="18.6" width="6.2" height="9.3" fill="#fff"/></g>
<circle cx="1193.0" cy="966.0" r="17.3" fill="url(#sg)"/>
<path d="M1476.4,939.8 L1498.4,980.3 L1454.4,980.3 Z M1476.4,950.3 L1462.8,975.3 L1490.0,975.3 Z" fill="#FEC314" fill-rule="evenodd"/><path d="M1476.4,950.3 L1462.8,975.3 L1490.0,975.3 Z" fill="#fff"/><rect x="1473.8" y="962.2" width="5.2" height="5.2" fill="#FEC314"/>
<text transform="translate(979.72,983.98) scale(0.5956,0.5612)" font-size="100">278 K</text>
<text transform="translate(1264.72,983.98) scale(0.5956,0.5612)" font-size="100">288 K</text>
<text transform="translate(1549.76,983.98) scale(0.5847,0.5612)" font-size="100">298 K</text>
<text x="979.03" y="1058.34" font-size="53.63" letter-spacing="2.906">Langmuir model fit</text>
<text x="979.05" y="1128.68" font-size="52.39" letter-spacing="3.211">Freundlich model fit</text>
<rect x="843.3" y="1035.6" width="127.8" height="9.6" fill="#EB0000"/>
<rect x="843.3" y="1107.8" width="41" height="9" fill="#EB0000"/>
<rect x="922" y="1107.8" width="43" height="9" fill="#EB0000"/>
</svg></body></html>
